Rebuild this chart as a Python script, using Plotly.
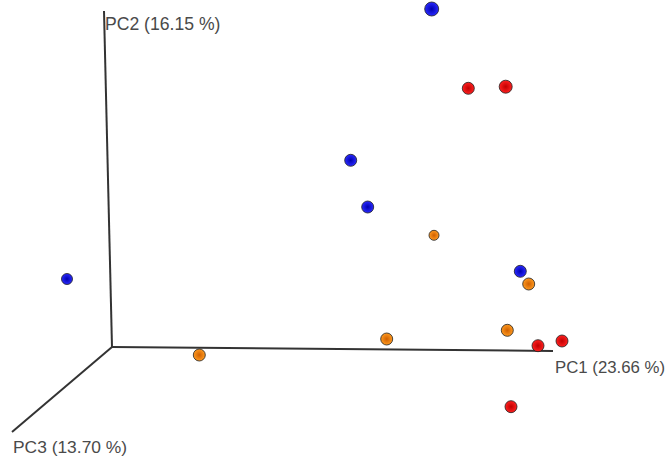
import plotly.graph_objects as go

# Projected (screen-space) positions of the PCoA samples
blue_x = [431.7, 350.7, 367.7, 67.0, 520.3]
blue_y = [9.0, 160.3, 207.0, 279.0, 271.3]
blue_size = [14, 12, 12, 11, 12]

red_x = [468.3, 505.7, 538.0, 562.0, 511.0]
red_y = [88.3, 86.7, 345.7, 341.0, 406.7]
red_size = [12, 13, 12, 12, 12]

orange_x = [434.0, 528.7, 386.7, 507.3, 199.3]
orange_y = [235.3, 284.0, 339.0, 330.3, 355.0]
orange_size = [10, 12, 12, 12, 12]

# Axis lines in projected space: origin and the three axis ends
origin = (112, 347)
axis_ends = {"PC1": (553, 351), "PC2": (104, 11), "PC3": (12, 432)}
axis_labels = {"PC1": "PC1 (23.66 %)", "PC2": "PC2 (16.15 %)", "PC3": "PC3 (13.70 %)"}
label_pos = {"PC1": (553, 367), "PC2": (103, 24), "PC3": (11, 447)}
label_size = {"PC1": 16.8, "PC2": 17.6, "PC3": 17.4}

fig = go.Figure()

for k, (ex, ey) in axis_ends.items():
    fig.add_trace(go.Scatter(x=[origin[0], ex], y=[origin[1], ey], mode="lines",
                             line=dict(color="#333333", width=2), hoverinfo="skip",
                             showlegend=False, cliponaxis=False))

def add_group(xs, ys, sizes, center, edge):
    fig.add_trace(go.Scatter(
        x=xs, y=ys, mode="markers", showlegend=False, cliponaxis=False,
        marker=dict(size=sizes, color=center, opacity=1,
                    gradient=dict(type="radial", color=edge),
                    line=dict(color="#202020", width=0.8))))

add_group(blue_x, blue_y, blue_size, "#2a2aff", "#0000b0")
add_group(red_x, red_y, red_size, "#ff2020", "#c00000")
add_group(orange_x, orange_y, orange_size, "#ff9a20", "#d06000")

for k, (lx, ly) in label_pos.items():
    fig.add_annotation(x=lx, y=ly, text=axis_labels[k], showarrow=False,
                       xanchor="left", yanchor="middle",
                       font=dict(family="Liberation Sans, Arial", size=label_size[k],
                                 color="#4a4a4a"))

fig.update_layout(
    width=668, height=457, margin=dict(l=0, r=0, t=0, b=0),
    paper_bgcolor="white", plot_bgcolor="white",
    xaxis=dict(range=[0, 668], visible=False),
    yaxis=dict(range=[457, 0], visible=False),
)

fig.write_html("out.html", config={"displayModeBar": False},
               post_script="document.body.style.margin='0';"
                           "document.body.style.overflow='hidden';")
